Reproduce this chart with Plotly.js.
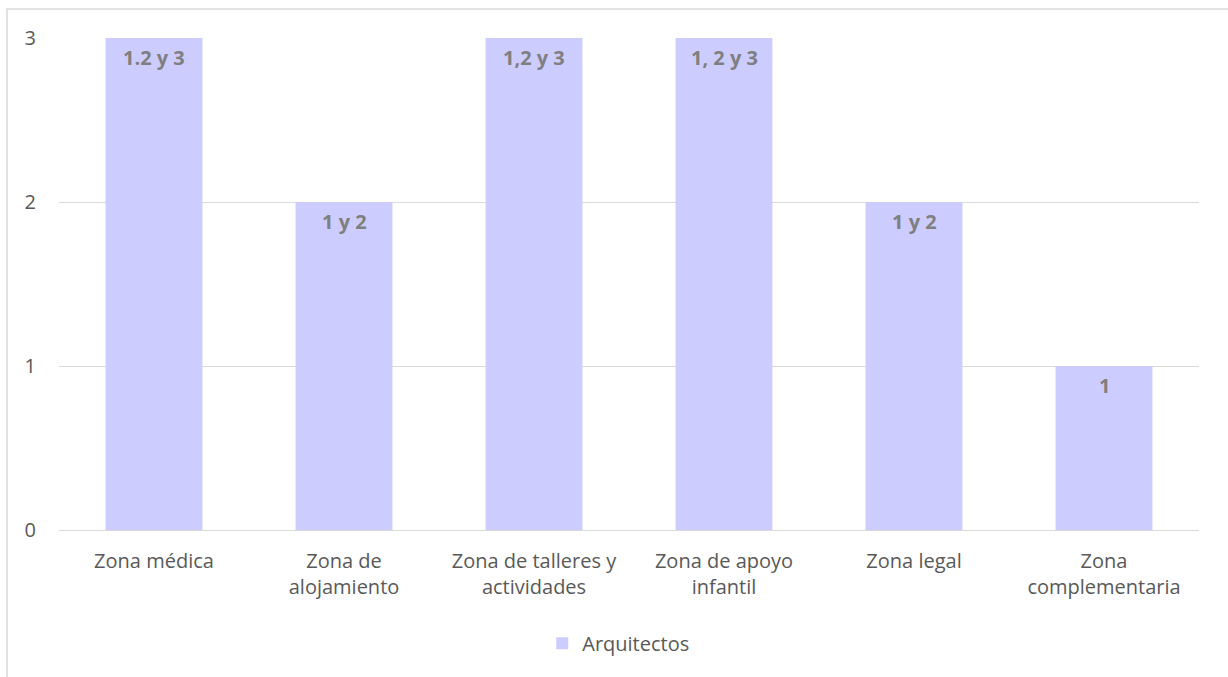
<!DOCTYPE html>
<html>
<head>
<meta charset="utf-8">
<script src="https://cdn.plot.ly/plotly-3.0.1.min.js"></script>
<style>html,body{margin:0;padding:0;overflow:hidden;background:#fff;}#chart{width:1228px;height:677px;}</style>
</head>
<body>
<div id="chart"></div>
<script>
const categories = ["Zona médica", "Zona de<br>alojamiento", "Zona de talleres y<br>actividades", "Zona de apoyo<br>infantil", "Zona legal", "Zona<br>complementaria"];
const values = [3, 2, 3, 3, 2, 1];
const barLabels = ["1.2 y 3", "1 y 2", "1,2 y 3", "1, 2 y 3", "1 y 2", "1"];
const seriesName = "Arquitectos";
const yTicks = [0, 1, 2, 3];

const FONT = "Open Sans, Lato, sans-serif";
const trace = {
  type: "bar",
  x: categories,
  y: values,
  name: seriesName,
  marker: {color: "#ccccff"},
  hoverinfo: "none",
  showlegend: true
};

const annotations = categories.map((c, i) => ({
  x: c, y: values[i], xref: "x", yref: "y",
  text: "<b>" + barLabels[i] + "</b>",
  showarrow: false, yanchor: "top", yshift: -4,
  font: {family: FONT, size: 20, color: "#7f7f7f"}
}));

const layout = {
  width: 1228, height: 677,
  margin: {l: 59, r: 29, t: 38, b: 147},
  paper_bgcolor: "#fff", plot_bgcolor: "#fff",
  font: {family: FONT, size: 20, color: "#595959"},
  bargap: 0.49,
  showlegend: true,
  legend: {orientation: "h", x: 0.491, xanchor: "center", y: -0.23, yanchor: "middle",
           itemwidth: 30,
           font: {family: FONT, size: 20, color: "#595959"}},
  xaxis: {
    type: "category", showgrid: false, zeroline: false, showline: false,
    ticks: "outside", ticklen: 13, tickcolor: "rgba(0,0,0,0)",
    tickfont: {family: FONT, size: 20, color: "#595959"}
  },
  yaxis: {
    range: [0, 3], tickvals: yTicks, showgrid: true, gridcolor: "#d9d9d9", gridwidth: 1,
    zeroline: true, zerolinecolor: "#d9d9d9", zerolinewidth: 1, showline: false,
    ticks: "outside", ticklen: 18, tickcolor: "rgba(0,0,0,0)",
    tickfont: {family: FONT, size: 20, color: "#595959"}
  },
  annotations: annotations,
  shapes: [{
    type: "rect", xref: "paper", yref: "paper",
    x0: -0.0456, x1: 1.2, y0: -0.5, y1: 1.059,
    line: {color: "#d9d9d9", width: 1.5}, fillcolor: "rgba(0,0,0,0)", layer: "below"
  }]
};

Plotly.newPlot("chart", [trace], layout, {displayModeBar: false, staticPlot: true});
</script>
</body>
</html>
